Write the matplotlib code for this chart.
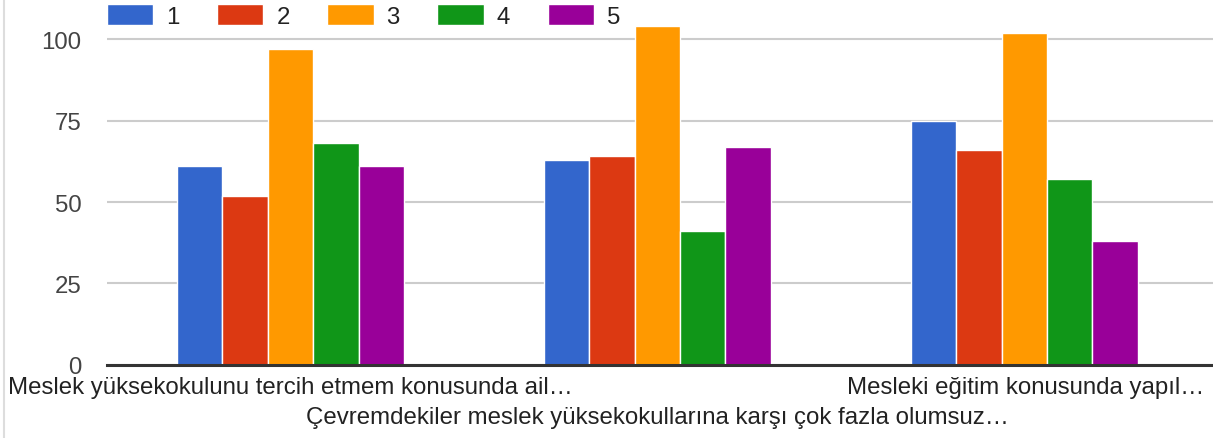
import matplotlib.pyplot as plt
import matplotlib.transforms as mtransforms
import numpy as np

plt.rcParams['font.family'] = ['Liberation Sans', 'DejaVu Sans']

categories = [
    'Meslek yüksekokulunu tercih etmem konusunda ail…',
    'Çevremdekiler meslek yüksekokullarına karşı çok fazla olumsuz…',
    'Mesleki eğitim konusunda yapıl…',
]
series_names = ['1', '2', '3', '4', '5']
series_values = [
    [61, 63, 75],    # 1
    [52, 64, 66],    # 2
    [97, 104, 102],  # 3
    [68, 41, 57],    # 4
    [61, 67, 38],    # 5
]
colors = ['#3366cc', '#dc3912', '#ff9900', '#109618', '#990099']
yticks = [0, 25, 50, 75, 100]

W, H = 1213, 439
FS = 17.3
fig = plt.figure(figsize=(W / 100, H / 100), dpi=100)
ax = fig.add_axes([107 / W, 1 - 365.7 / H, 1 - 107 / W, 365.7 / H])

x = np.arange(len(categories))
bw = 0.618 / len(series_names)
for i, (name, vals) in enumerate(zip(series_names, series_values)):
    offs = (i - (len(series_names) - 1) / 2) * bw
    ax.bar(x + offs, vals, width=bw, color=colors[i], label=name,
           edgecolor='white', linewidth=1, zorder=3)

ax.set_xlim(-0.5, 2.514)
ax.set_ylim(0, 112.4)
ax.set_yticks(yticks)
ax.set_yticklabels([str(t) for t in yticks])
ax.tick_params(axis='y', length=0, pad=18.5, labelsize=FS, labelcolor='#444444')
ax.set_xticks([])
ax.grid(axis='y', color='#cccccc', linewidth=1.5, zorder=0)
ax.set_axisbelow(True)
for s in ['top', 'right', 'left']:
    ax.spines[s].set_visible(False)
ax.spines['bottom'].set_color('#333333')
ax.spines['bottom'].set_linewidth(2.2)
ax.spines['bottom'].set_zorder(4)

# category labels, staggered like the original
txt_kw = dict(fontsize=FS, color='#222222', va='baseline')
fig.text(8 / W, 1 - 394 / H, categories[0], ha='left', **txt_kw)
trans = mtransforms.blended_transform_factory(ax.transData, fig.transFigure)
ax.text(1, 1 - 424 / H, categories[1], ha='center', transform=trans, **txt_kw)
fig.text(1204 / W, 1 - 394 / H, categories[2], ha='right', **txt_kw)

leg = ax.legend(loc='center left', bbox_to_anchor=(107 / W, 1 - 17 / H),
                bbox_transform=fig.transFigure, ncol=5, frameon=False,
                fontsize=FS, handlelength=1.92, handleheight=0.92,
                handletextpad=0.54, columnspacing=1.57, borderpad=0,
                borderaxespad=0)
for t in leg.get_texts():
    t.set_color('#222222')

# card border on the left
fig.add_artist(plt.Line2D([4 / W, 4 / W], [0, 1], color='#dddddd',
                          linewidth=1.5, transform=fig.transFigure))

fig.savefig('out.png', dpi=100)
